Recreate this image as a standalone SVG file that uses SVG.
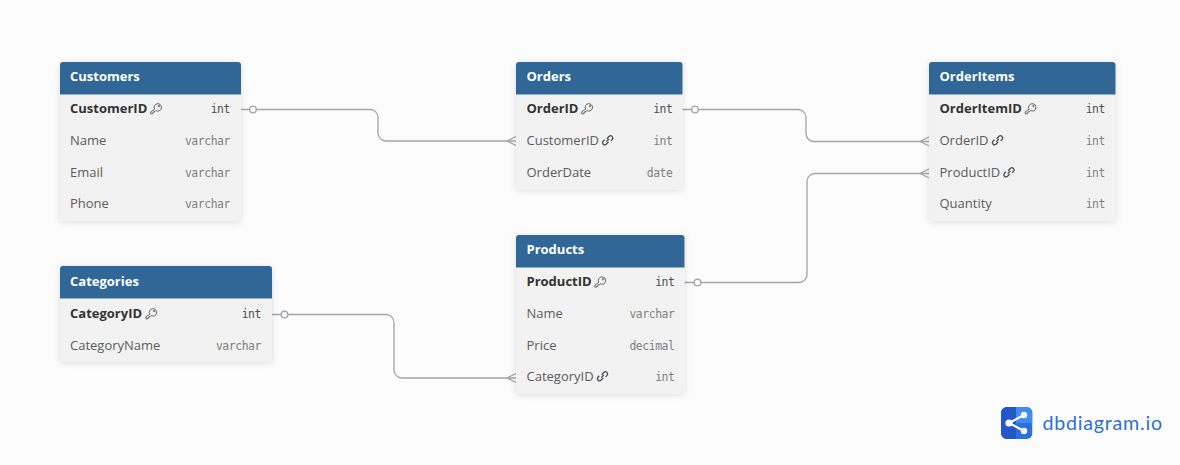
<svg xmlns="http://www.w3.org/2000/svg" width="1180" height="465" viewBox="0 0 1180 465">
<style>
.body{fill:#f2f2f2;filter:url(#sh)}
.head{fill:#306796}
.rule{stroke:#8fb0cc;stroke-width:1}
.ttl{font:700 13px "Open Sans","Noto Sans",sans-serif;fill:#fff}
.pk{font:700 13px "Open Sans","Noto Sans",sans-serif;fill:#333}
.fld{font:400 13px "Open Sans","Noto Sans",sans-serif;fill:#5c5c5c}
.typ{font:400 11.400px "DejaVu Sans Mono",monospace;letter-spacing:-.42px;fill:#808080;text-anchor:end}
.typb{font:400 11.400px "DejaVu Sans Mono",monospace;letter-spacing:-.42px;fill:#4f4f4f;text-anchor:end}
.con{fill:none;stroke:#a2a2a8;stroke-width:1.300}
.dot{fill:#fafafa;stroke:#a2a2a8;stroke-width:1.300}
.ic{fill:none;stroke:#555;stroke-width:.9}
.ic2{fill:none;stroke:#4a4a4a;stroke-width:1.300}
</style>
<defs>
<filter id="sh" x="-10%" y="-10%" width="120%" height="125%"><feDropShadow dx="0" dy="1" stdDeviation="3" flood-color="#000" flood-opacity="0.13"/></filter>
<g id="key"><path class="ic" d="M-2.900 1.700A3.700 3.700 0 1 1 -1.500 3.100L-2.500 4.100H-3.700V5.300H-4.800V6.300H-6.800V4.300Z"/><circle cx="1.400" cy="-1.400" r=".7" class="ic"/></g>
<g id="lnk"><path class="ic2" d="M-.8 -1.600L1.500 -4a2.200 2.200 0 0 1 3.100 3.100L3.200 .5M.8 1.600L-1.500 4a2.200 2.200 0 0 1 -3.100 -3.100L-3.200 -.5M-1.300 1.300L1.300 -1.300"/></g>
<g id="many"><path class="con" d="M-9 0L0 -4.500M-9 0L0 4.500"/></g>
<clipPath id="logo"><rect x="1001" y="407" width="31.500" height="32" rx="6"/></clipPath>
</defs>
<rect width="1180" height="465" fill="#fcfcfc"/>
<g id="connectors">
<path class="con" d="M241 109.500H370a8 8 0 0 1 8 8V133a8 8 0 0 0 8 8H516"/>
<path class="con" d="M682 109.500H798a8 8 0 0 1 8 8V133a8 8 0 0 0 8 8.500H929"/>
<path class="con" d="M684 282.500H799a8 8 0 0 0 8 -8V181.500a8 8 0 0 1 8 -8H929"/>
<path class="con" d="M272 314.500H386a8 8 0 0 1 8 8V370a8 8 0 0 0 8 8H516"/>
<circle class="dot" cx="253" cy="109.500" r="3.300"/>
<circle class="dot" cx="695" cy="109.500" r="3.300"/>
<circle class="dot" cx="697.500" cy="282.500" r="3.300"/>
<circle class="dot" cx="284.500" cy="314.500" r="3.300"/>
<use href="#many" x="516" y="141"/>
<use href="#many" x="929" y="141.500"/>
<use href="#many" x="929" y="173.500"/>
<use href="#many" x="516" y="378"/>
</g>
<g id="customers">
<rect class="body" x="60" y="62" width="181" height="159" rx="3"/>
<path class="head" d="M60 94V65a3 3 0 0 1 3 -3H238a3 3 0 0 1 3 3V94Z"/>
<path class="rule" d="M60 94.500H241"/>
<text class="ttl" x="70" y="81">Customers</text>
<text class="pk" x="70" y="113">CustomerID</text><use href="#key" x="157.500" y="107.500"/><text class="typb" x="230" y="113">int</text>
<text class="fld" x="70" y="145">Name</text><text class="typ" x="230" y="145">varchar</text>
<text class="fld" x="70" y="177">Email</text><text class="typ" x="230" y="177">varchar</text>
<text class="fld" x="70" y="208">Phone</text><text class="typ" x="230" y="208">varchar</text>
</g>
<g id="orders">
<rect class="body" x="516" y="62" width="166.500" height="127.500" rx="3"/>
<path class="head" d="M516 94V65a3 3 0 0 1 3 -3H679.500a3 3 0 0 1 3 3V94Z"/>
<path class="rule" d="M516 94.500H682.500"/>
<text class="ttl" x="526.500" y="81">Orders</text>
<text class="pk" x="526.500" y="113">OrderID</text><use href="#key" x="588.500" y="107.500"/><text class="typb" x="672.500" y="113">int</text>
<text class="fld" x="526.500" y="145">CustomerID</text><use href="#lnk" x="607.700" y="140.300"/><text class="typ" x="672.500" y="145">int</text>
<text class="fld" x="526.500" y="177">OrderDate</text><text class="typ" x="672.500" y="177">date</text>
</g>
<g id="orderitems">
<rect class="body" x="929" y="62" width="186.500" height="159" rx="3"/>
<path class="head" d="M929 94V65a3 3 0 0 1 3 -3H1112.500a3 3 0 0 1 3 3V94Z"/>
<path class="rule" d="M929 94.500H1115.500"/>
<text class="ttl" x="939.500" y="81">OrderItems</text>
<text class="pk" x="939.500" y="113">OrderItemID</text><use href="#key" x="1032" y="107.500"/><text class="typb" x="1105" y="113">int</text>
<text class="fld" x="939.500" y="145">OrderID</text><use href="#lnk" x="997.500" y="140.300"/><text class="typ" x="1105" y="145">int</text>
<text class="fld" x="939.500" y="177">ProductID</text><use href="#lnk" x="1009" y="172.300"/><text class="typ" x="1105" y="177">int</text>
<text class="fld" x="939.500" y="208">Quantity</text><text class="typ" x="1105" y="208">int</text>
</g>
<g id="products">
<rect class="body" x="516" y="235" width="168.500" height="159" rx="3"/>
<path class="head" d="M516 267V238a3 3 0 0 1 3 -3H681.500a3 3 0 0 1 3 3V267Z"/>
<path class="rule" d="M516 267.500H684.500"/>
<text class="ttl" x="526.500" y="254">Products</text>
<text class="pk" x="526.500" y="286">ProductID</text><use href="#key" x="601.700" y="280.700"/><text class="typb" x="674.500" y="286">int</text>
<text class="fld" x="526.500" y="318">Name</text><text class="typ" x="674.500" y="318">varchar</text>
<text class="fld" x="526.500" y="350">Price</text><text class="typ" x="674.500" y="350">decimal</text>
<text class="fld" x="526.500" y="381">CategoryID</text><use href="#lnk" x="602.500" y="376.300"/><text class="typ" x="674.500" y="381">int</text>
</g>
<g id="categories">
<rect class="body" x="60" y="266" width="212" height="96" rx="3"/>
<path class="head" d="M60 298V269a3 3 0 0 1 3 -3H269a3 3 0 0 1 3 3V298Z"/>
<path class="rule" d="M60 298.500H272"/>
<text class="ttl" x="70" y="286">Categories</text>
<text class="pk" x="70" y="318">CategoryID</text><use href="#key" x="152.700" y="312.500"/><text class="typb" x="261" y="318">int</text>
<text class="fld" x="70" y="350">CategoryName</text><text class="typ" x="261" y="350">varchar</text>
</g>
<g id="logo-mark">
<g clip-path="url(#logo)">
<rect x="1001" y="407" width="31.500" height="32" fill="#2c6fe0"/>
<rect x="1001" y="407" width="15" height="32" fill="#2258c8"/>
<rect x="1016" y="407" width="16.500" height="16" fill="#3f8cf5"/>
</g>
<path d="M1024 415L1009 423L1024 431" fill="none" stroke="#fff" stroke-width="2.200"/>
<circle cx="1024" cy="415" r="3.200" fill="#fff"/><circle cx="1009" cy="423" r="3.600" fill="#fff"/><circle cx="1024" cy="431" r="3.200" fill="#fff"/>
<text x="1042.500" y="430" font-family="Lato,'Noto Sans',sans-serif" font-size="19.700" letter-spacing=".75" fill="#2f6fd6">dbdiagram.io</text>
</g>
</svg>
